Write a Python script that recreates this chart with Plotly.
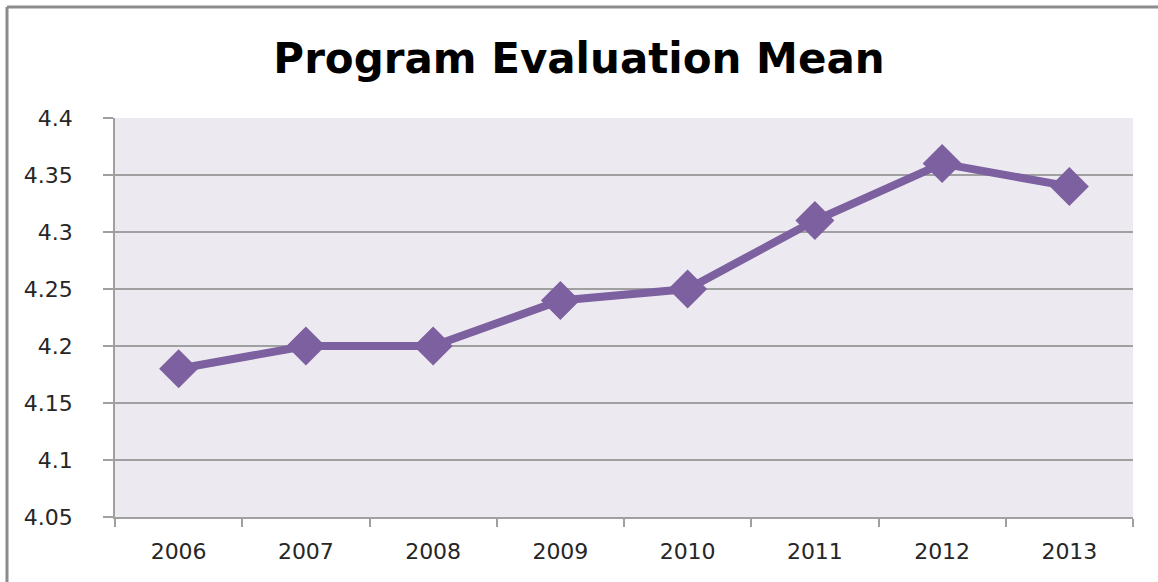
import plotly.graph_objects as go

years = ["2006", "2007", "2008", "2009", "2010", "2011", "2012", "2013"]
means = [4.18, 4.20, 4.20, 4.24, 4.25, 4.31, 4.36, 4.34]
y_tick_vals = [4.05, 4.10, 4.15, 4.20, 4.25, 4.30, 4.35, 4.40]
y_tick_text = ["4.05", "4.1", "4.15", "4.2", "4.25", "4.3", "4.35", "4.4"]

W, H = 1158, 582
L, R, T, B = 115, 25, 118, 65
FONT = "DejaVu Sans, Open Sans, sans-serif"

fig = go.Figure()
fig.add_trace(go.Scatter(
    x=years, y=means, mode="lines+markers",
    line=dict(color="#7D60A0", width=8),
    marker=dict(symbol="diamond", size=30, color="#7D60A0"),
    showlegend=False,
))

grid = "#A0A0A0"
fig.update_layout(
    width=W, height=H,
    margin=dict(l=L, r=R, t=T, b=B),
    paper_bgcolor="white",
    plot_bgcolor="#ECEAF0",
    font=dict(family=FONT, color="#262626"),
    title=dict(text="<b>Program Evaluation Mean</b>", x=0.5, xanchor="center",
               y=1 - 58 / H, yanchor="middle", yref="container",
               font=dict(size=42, color="black", family=FONT)),
    xaxis=dict(
        type="category", tickson="boundaries", ticks="outside", ticklen=8,
        tickcolor=grid, tickwidth=1.5, showgrid=False, showline=True,
        linecolor=grid, linewidth=1.5, tickfont=dict(size=22, color="#262626"),
        ticklabelstandoff=14, range=[-0.5, 7.5], zeroline=False,
    ),
    yaxis=dict(
        range=[4.05, 4.40], tickvals=y_tick_vals, ticktext=y_tick_text,
        ticks="outside", ticklen=10, tickcolor=grid, tickwidth=1.5,
        showgrid=True, gridcolor=grid, gridwidth=1.5, showline=True,
        linecolor=grid, linewidth=1.5, tickfont=dict(size=22, color="#262626"),
        ticklabelstandoff=26, zeroline=False,
    ),
    shapes=[
        dict(type="line", xref="paper", yref="paper",
             x0=-(L - 7) / (W - L - R), x1=(W - L) / (W - L - R),
             y0=1 + (T - 7) / (H - T - B), y1=1 + (T - 7) / (H - T - B),
             line=dict(color="#8C8C8C", width=3)),
        dict(type="line", xref="paper", yref="paper",
             x0=-(L - 7) / (W - L - R), x1=-(L - 7) / (W - L - R),
             y0=1 + (T - 7) / (H - T - B), y1=-(B) / (H - T - B),
             line=dict(color="#8C8C8C", width=3)),
    ],
)

fig.write_html("out.html", config={"displayModeBar": False},
               post_script="document.body.style.margin='0';")
